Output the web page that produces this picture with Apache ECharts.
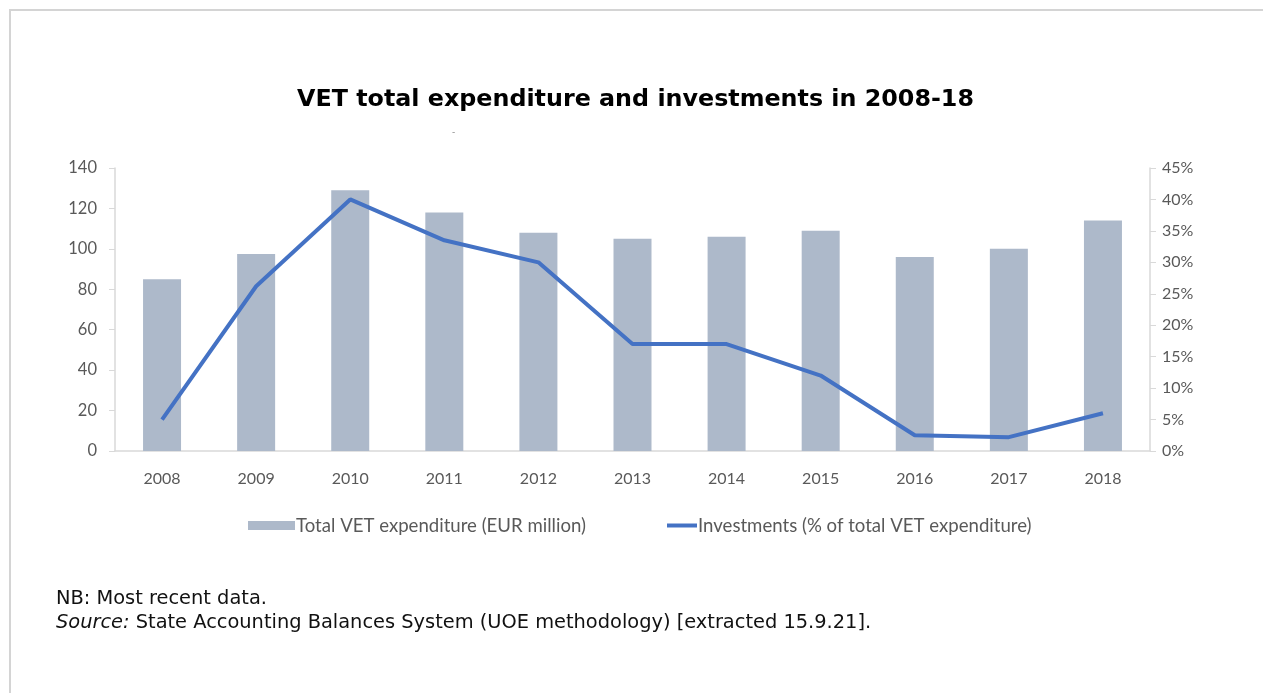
<!DOCTYPE html>
<html>
<head>
<meta charset="utf-8">
<script src="https://cdn.jsdelivr.net/npm/echarts@6/dist/echarts.min.js"></script>
<style>
html,body{margin:0;padding:0;background:#fff;}
#chart{width:1263px;height:693px;}
</style>
</head>
<body>
<div id="chart"></div>
<script>
const years = ['2008','2009','2010','2011','2012','2013','2014','2015','2016','2017','2018'];
const totalExpenditure = [85, 97.5, 129, 118, 108, 105, 106, 109, 96, 100, 114];
const investmentsPct = [5, 26.2, 40, 33.5, 30, 17, 17, 12, 2.5, 2.2, 6];
const leftTicks = {min: 0, max: 140, interval: 20};
const rightTicks = {min: 0, max: 45, interval: 5};

const FONT = 'DejaVu Sans';
const CHARTFONT = 'Lato';
const chart = echarts.init(document.getElementById('chart'));
chart.setOption({
  backgroundColor: '#fff',
  animation: false,
  title: {
    text: 'VET total expenditure and investments in 2008-18',
    left: 292, top: 83,
    textStyle: {fontFamily: FONT, fontWeight: 'bold', fontSize: 23.8, color: '#000'}
  },
  graphic: [
    {type: 'rect', shape: {x: 10, y: 10, width: 1300, height: 720},
     style: {fill: 'none', stroke: '#d4d4d4', lineWidth: 2}, silent: true},
    {type: 'text', left: 452, top: 128, style: {text: '-', font: '9px DejaVu Sans', fill: '#888'}},
    {type: 'text', left: 56, top: 589,
     style: {text: 'NB: Most recent data.', font: '19.4px "DejaVu Sans"', fill: '#111'}},
    {type: 'text', left: 56, top: 613,
     style: {text: '{i|Source:} State Accounting Balances System (UOE methodology) [extracted 15.9.21].',
       font: '19.4px "DejaVu Sans"', fill: '#111',
       rich: {i: {fontStyle: 'italic', fontFamily: FONT, fontSize: 19.4, fill: '#111'}}}}
  ],
  legend: [
    {data: [{name: 'Total VET expenditure (EUR million)', icon: 'rect'}],
     left: 243, top: 511, itemWidth: 47, itemHeight: 9,
     textStyle: {fontFamily: CHARTFONT, fontSize: 18.6, color: '#595959', padding: [0,0,0,-4]}},
    {data: [{name: 'Investments (% of total VET expenditure)', icon: 'rect'}],
     left: 662, top: 511, itemWidth: 30, itemHeight: 4,
     textStyle: {fontFamily: CHARTFONT, fontSize: 18.6, color: '#595959', padding: [0,0,0,-4]}}
  ],
  grid: {left: 115, right: 113, top: 168, bottom: 242, containLabel: false},
  xAxis: {
    type: 'category', data: years,
    axisLine: {lineStyle: {color: '#d9d9d9', width: 1.5}},
    axisTick: {show: false},
    axisLabel: {fontFamily: CHARTFONT, fontSize: 16, color: '#595959', margin: 20}
  },
  yAxis: [
    {type: 'value', min: leftTicks.min, max: leftTicks.max, interval: leftTicks.interval,
     axisLine: {show: true, lineStyle: {color: '#d9d9d9', width: 1.5}},
     axisTick: {show: true, length: 6, lineStyle: {color: '#d9d9d9'}},
     splitLine: {show: false},
     axisLabel: {fontFamily: CHARTFONT, fontSize: 16.5, color: '#595959', margin: 18}},
    {type: 'value', min: rightTicks.min, max: rightTicks.max, interval: rightTicks.interval,
     position: 'right',
     axisLine: {show: true, lineStyle: {color: '#d9d9d9', width: 1.5}},
     axisTick: {show: true, length: 6, lineStyle: {color: '#d9d9d9'}},
     splitLine: {show: false},
     axisLabel: {fontFamily: CHARTFONT, fontSize: 16, color: '#595959', margin: 12, formatter: '{value}%'}}
  ],
  series: [
    {name: 'Total VET expenditure (EUR million)', type: 'bar', data: totalExpenditure,
     barWidth: 38, itemStyle: {color: '#adb9ca'}, yAxisIndex: 0},
    {name: 'Investments (% of total VET expenditure)', type: 'line', data: investmentsPct,
     yAxisIndex: 1, symbol: 'none', lineStyle: {color: '#4472c4', width: 4},
     itemStyle: {color: '#4472c4'}}
  ]
});
</script>
</body>
</html>
